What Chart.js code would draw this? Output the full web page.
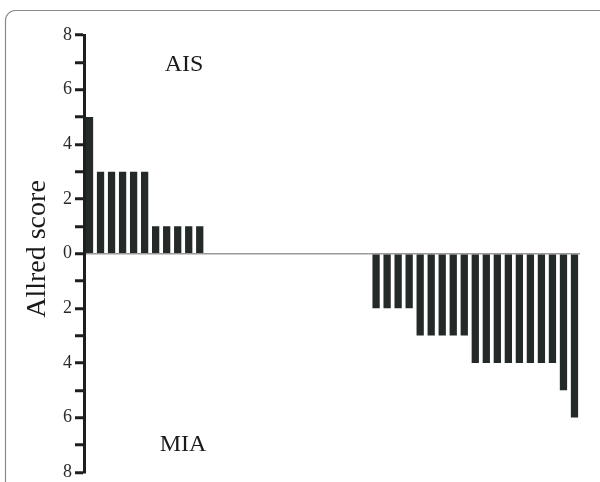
<!DOCTYPE html>
<html>
<head>
<meta charset="utf-8">
<script src="https://cdn.jsdelivr.net/npm/chart.js@4/dist/chart.umd.min.js"></script>
<style>
  html, body { margin: 0; padding: 0; background: #ffffff; }
  #wrap { width: 600px; height: 482px; }
</style>
</head>
<body>
<div id="wrap"><canvas id="c" width="600" height="482"></canvas></div>
<script>
// Patients / cases in order (one slot each, gaps have no bar)
const categories = Array.from({length: 45}, (_, i) => String(i + 1));
// Allred score: positive = AIS, negative = MIA (absolute value shown on axis)
const aisScores = [5, 3, 3, 3, 3, 3, 1, 1, 1, 1, 1];
const gapSlots = [null, null, null, null, null, null, null, null, null, null, null, null, null, null, null];
const miaScores = [-2, -2, -2, -2, -3, -3, -3, -3, -3, -4, -4, -4, -4, -4, -4, -4, -4, -5, -6];
const allredValues = aisScores.concat(gapSlots, miaScores);
// Y tick labels (absolute values, only even ticks labelled)
const yTickLabels = {8: '8', 6: '6', 4: '4', 2: '2', 0: '0', '-2': '2', '-4': '4', '-6': '6', '-8': '8'};
const yTitle = 'Allred score';
const groupLabels = ['AIS', 'MIA'];

const SERIF = 'Liberation Serif, Times New Roman, serif';

const frameAndText = {
  id: 'frameAndText',
  beforeDraw(chart) {
    const ctx = chart.ctx;
    ctx.save();
    ctx.fillStyle = '#ffffff';
    ctx.fillRect(0, 0, chart.width, chart.height);
    ctx.strokeStyle = '#8a8a8a';
    ctx.lineWidth = 1.2;
    ctx.beginPath();
    ctx.roundRect(5.5, 10.5, 610, 520, 10);
    ctx.stroke();
    ctx.restore();
  },
  afterDraw(chart) {
    const ctx = chart.ctx;
    const y = chart.scales.y;
    ctx.save();
    ctx.fillStyle = '#1a1a1a';
    ctx.font = '24px ' + SERIF;
    ctx.textAlign = 'center';
    ctx.textBaseline = 'middle';
    ctx.fillText(groupLabels[0], 184, y.getPixelForValue(6.93));
    ctx.fillText(groupLabels[1], 183, y.getPixelForValue(-6.98));
    ctx.translate(38, 249);
    ctx.rotate(-Math.PI / 2);
    ctx.font = '28px ' + SERIF;
    ctx.fillText(yTitle, 0, 0);
    ctx.restore();
  }
};

new Chart(document.getElementById('c'), {
  type: 'bar',
  data: {
    labels: categories,
    datasets: [{
      data: allredValues,
      backgroundColor: '#232a27',
      borderWidth: 0,
      categoryPercentage: 1.0,
      barPercentage: 0.66
    }]
  },
  options: {
    responsive: false,
    animation: false,
    devicePixelRatio: 1,
    layout: { padding: { left: 0, right: 20, top: 35, bottom: 9 } },
    plugins: { legend: { display: false }, tooltip: { enabled: false } },
    scales: {
      x: { display: false, offset: true },
      y: {
        min: -8, max: 8,
        afterFit(scale) { scale.width = 84; },
        border: { display: true, color: '#1e1e1e', width: 3 },
        grid: {
          drawOnChartArea: true,
          color: (c) => (c.tick && c.tick.value === 0) ? '#9a9a9a' : 'rgba(0,0,0,0)',
          lineWidth: 1.5,
          tickColor: '#1e1e1e',
          tickWidth: 3,
          tickLength: 9
        },
        ticks: {
          stepSize: 1,
          autoSkip: false,
          padding: 3,
          color: '#2a2a2a',
          font: { family: SERIF, size: 18, lineHeight: 0.75 },
          callback: (v) => (yTickLabels[v] !== undefined ? yTickLabels[v] : '')
        }
      }
    }
  },
  plugins: [frameAndText]
});
</script>
</body>
</html>
